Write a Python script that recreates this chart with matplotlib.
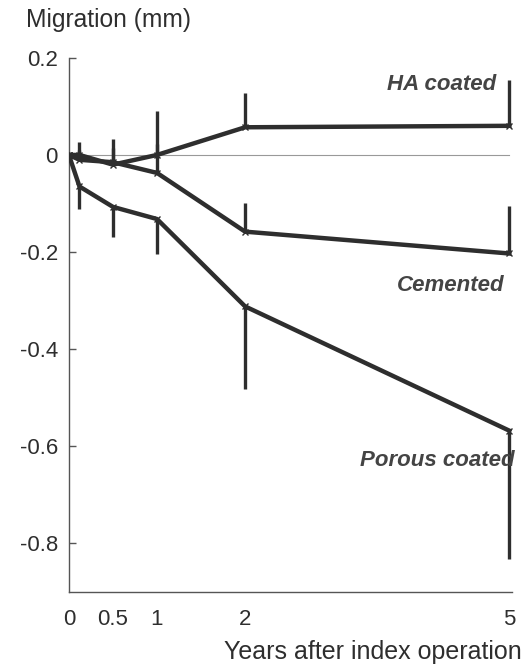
import matplotlib.pyplot as plt
import numpy as np

plt.rcParams['font.family'] = ['Liberation Sans', 'DejaVu Sans']

years = [0, 0.12, 0.5, 1, 2, 5]
x_ticks = [0, 0.5, 1, 2, 5]
x_labels = ["0", "0.5", "1", "2", "5"]
y_ticks = [0.2, 0, -0.2, -0.4, -0.6, -0.8]
y_labels = ["0.2", "0", "-0.2", "-0.4", "-0.6", "-0.8"]

ha = [0, 0.0, -0.02, 0.0, 0.057, 0.06]
ha_up = [0, 0.027, 0.053, 0.09, 0.07, 0.095]

cemented = [0, -0.01, -0.015, -0.037, -0.158, -0.203]
cem_up = [0, 0.02, 0.03, 0.06, 0.058, 0.098]

porous = [0, -0.065, -0.107, -0.132, -0.312, -0.568]
por_down = [0, 0.046, 0.062, 0.072, 0.17, 0.265]

col = "#2e2e2e"

fig = plt.figure(figsize=(5.3, 6.65), dpi=100)
ax = fig.add_axes([0.130, 0.110, 0.836, 0.803])

# zero reference line
ax.plot([0, 5], [0, 0], color="#999999", lw=0.8, zorder=1)

zeros = np.zeros(len(years))
for vals, err in [(ha, [zeros, ha_up]), (cemented, [zeros, cem_up]),
                  (porous, [por_down, zeros])]:
    ax.errorbar(years, vals, yerr=err, color=col, lw=3.2, elinewidth=2.4,
                capsize=0, marker="x", ms=5, mew=1, zorder=3)

ax.set_xlim(0, 5.03)
ax.set_ylim(-0.9, 0.2)
ax.set_xticks(x_ticks)
ax.set_xticklabels(x_labels)
ax.set_yticks(y_ticks)
ax.set_yticklabels(y_labels)

for s in ["top", "right"]:
    ax.spines[s].set_visible(False)
for s in ["left", "bottom"]:
    ax.spines[s].set_color("#555555")
    ax.spines[s].set_linewidth(1)

ax.tick_params(axis="y", direction="in", length=5, width=1, color="#555555",
               pad=8, labelsize=16, labelcolor=col)
ax.tick_params(axis="x", length=0, pad=12, labelsize=16, labelcolor=col)

# series labels
lab = dict(ha="right", va="center", fontsize=16, style="italic",
           fontweight="bold", color="#444444")
ax.text(4.85, 0.146, "HA coated", **lab)
ax.text(4.94, -0.268, "Cemented", **lab)
ax.text(5.06, -0.629, "Porous coated", **lab)

fig.text(0.049, 0.970, "Migration (mm)", ha="left", va="center", fontsize=17.7,
         color=col)
fig.text(0.985, 0.020, "Years after index operation", ha="right", va="center",
         fontsize=18, color=col)

plt.savefig("out.png", dpi=100)
